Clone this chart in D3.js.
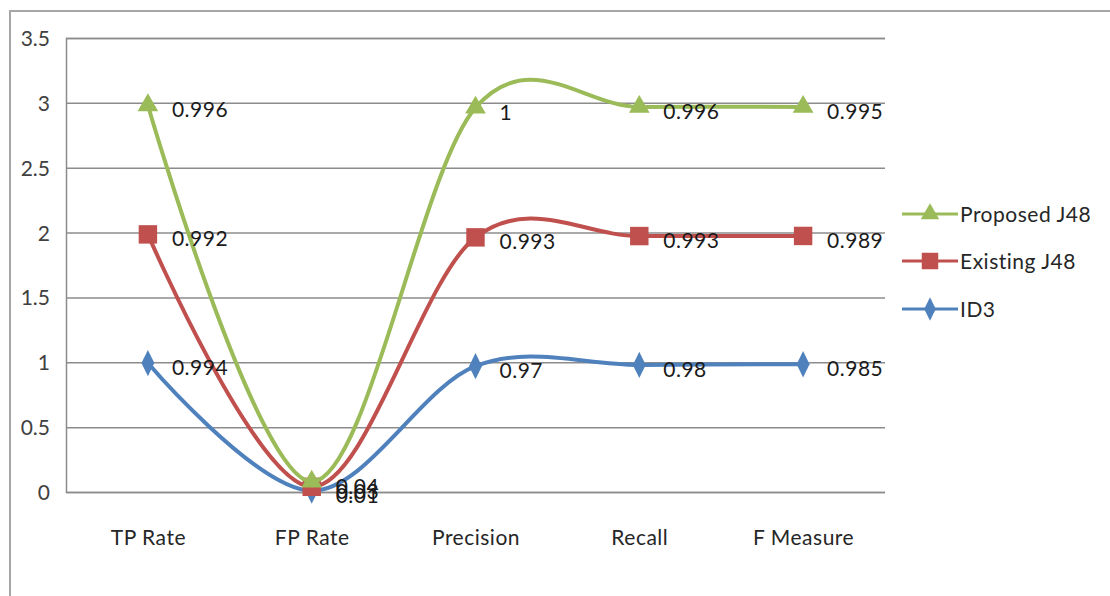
<!DOCTYPE html>
<html>
<head>
<meta charset="utf-8">
<script src="https://cdn.jsdelivr.net/npm/d3@7"></script>
<style>
  body { margin: 0; background: #fff; }
  svg text { font-family: Lato, "DejaVu Sans", sans-serif; }
</style>
</head>
<body>
<div id="chart"></div>
<script>
// Stacked line chart – ID3 vs Existing J48 vs Proposed J48
const categories = ["TP Rate", "FP Rate", "Precision", "Recall", "F Measure"];
const id3Values = [0.994, 0.01, 0.97, 0.98, 0.985];
const existingValues = [0.992, 0.03, 0.993, 0.993, 0.989];
const proposedValues = [0.996, 0.04, 1, 0.996, 0.995];
const yTicks = [0, 0.5, 1, 1.5, 2, 2.5, 3, 3.5];

const seriesNames = ["ID3", "Existing J48", "Proposed J48"];
const seriesColors = ["#4F81BD", "#C0504D", "#9BBB59"];

const w = 1110;
const h = 596;
const margin = { top: 38, right: 225, bottom: 104, left: 66 };

// build rows for d3.stack
const rows = categories.map((c, i) => ({
    cat: c,
    "ID3": id3Values[i],
    "Existing J48": existingValues[i],
    "Proposed J48": proposedValues[i]
}));
const stacked = d3.stack().keys(seriesNames)(rows);

const svg = d3.select("#chart")
    .append("svg")
    .attr("width", w)
    .attr("height", h);

// outer chart border (cut off at right and bottom)
svg.append("path")
    .attr("d", `M10,${h} V11 H${w}`)
    .attr("fill", "none")
    .attr("stroke", "#a6a6a6")
    .attr("stroke-width", 2);

// Scales
const x = d3.scalePoint()
    .domain(categories)
    .range([margin.left, w - margin.right])
    .padding(0.5);

const y = d3.scaleLinear()
    .domain([0, 3.5])
    .range([h - margin.bottom, margin.top]);

// Y axis + gridlines
const yAxis = svg.append("g")
    .attr("transform", `translate(${margin.left},0)`)
    .call(d3.axisLeft(y)
        .tickValues(yTicks)
        .tickFormat(d => d)
        .tickSize(-(w - margin.right - margin.left))
        .tickPadding(16));
yAxis.select(".domain").attr("stroke", "#8c8c8c").attr("stroke-width", 1.5);
yAxis.selectAll(".tick line").attr("stroke", "#8c8c8c").attr("stroke-width", 1.5);
yAxis.selectAll("text")
    .style("font-size", "21px")
    .style("fill", "#404040")
    .attr("dy", "0.36em");

// X axis labels
const xAxis = svg.append("g")
    .attr("transform", `translate(0,${h - margin.bottom})`)
    .call(d3.axisBottom(x).tickSize(0).tickPadding(38));
xAxis.select(".domain").remove();
xAxis.selectAll("text")
    .style("font-size", "21px")
    .style("fill", "#262626")
    .style("letter-spacing", "0.5px");

// Lines (Excel-style smoothing)
const line = d3.line()
    .x(d => x(d.data.cat))
    .y(d => y(d[1]))
    .curve(d3.curveCardinal.tension(0));

const symbols = [d3.symbolDiamond, d3.symbolSquare, d3.symbolTriangle];
const symbolSizes = [200, 340, 185];

stacked.forEach((s, i) => {
    svg.append("path")
        .datum(s)
        .attr("fill", "none")
        .attr("stroke", seriesColors[i])
        .attr("stroke-width", 4)
        .attr("d", line);

    svg.selectAll(".m" + i)
        .data(s)
        .enter()
        .append("path")
        .attr("class", "m" + i)
        .attr("transform", d => `translate(${x(d.data.cat)},${y(d[1])})` + (i === 0 ? " scale(0.85,1)" : ""))
        .attr("d", d3.symbol().type(symbols[i]).size(symbolSizes[i]))
        .attr("fill", seriesColors[i]);
});

// Data labels (raw values, not stacked)
stacked.forEach((s, i) => {
    svg.selectAll(".lbl" + i)
        .data(s)
        .enter()
        .append("text")
        .attr("x", d => x(d.data.cat) + 24)
        .attr("y", d => y(d[1]) + 12)
        .style("font-size", "21px")
        .style("letter-spacing", "0.5px")
        .style("fill", "#1a1a1a")
        .text(d => d.data[seriesNames[i]]);
});

// Legend
const legendY = [309, 261, 214];
seriesNames.forEach((name, i) => {
    const g = svg.append("g").attr("transform", `translate(902,${legendY[i]})`);
    g.append("line")
        .attr("x1", 0).attr("x2", 56)
        .attr("stroke", seriesColors[i])
        .attr("stroke-width", 3);
    g.append("path")
        .attr("transform", "translate(28,0)" + (i === 0 ? " scale(0.85,1)" : ""))
        .attr("d", d3.symbol().type(symbols[i]).size(symbolSizes[i] * 0.8))
        .attr("fill", seriesColors[i]);
    g.append("text")
        .attr("x", 58)
        .attr("dy", "0.36em")
        .style("font-size", "21px")
        .style("letter-spacing", "0.5px")
        .style("fill", "#262626")
        .text(name);
});
</script>
</body>
</html>
